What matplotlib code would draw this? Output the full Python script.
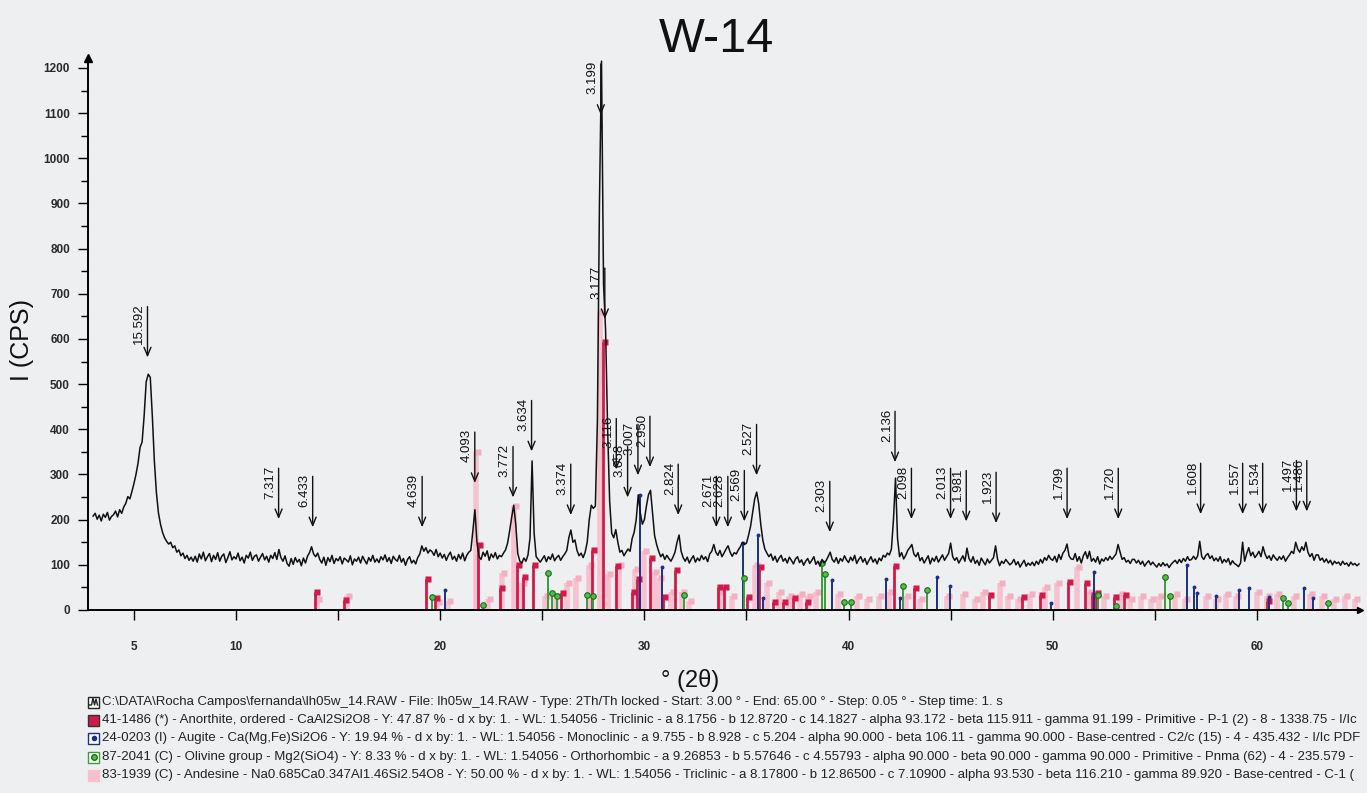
import numpy as np
import matplotlib.pyplot as plt
from matplotlib.patches import Rectangle
import matplotlib.transforms as mtransforms

plt.rcParams['font.family'] = ['Liberation Sans', 'DejaVu Sans']

WL = 1.54056

# measured scan, 3.0 - 65.0 deg 2theta, one row per degree (0.1 deg apart)
scan_counts = [
    208, 214, 201, 210, 197, 212, 205, 216, 199, 207,
    211, 219, 206, 222, 214, 228, 236, 251, 246, 262,
    280, 300, 325, 360, 372, 430, 505, 522, 515, 430,
    330, 260, 215, 190, 172, 160, 152, 146, 150, 138,
    142, 128, 133, 120, 126, 114, 121, 110, 117, 108,
    119, 106, 124, 113, 128, 109, 118, 125, 107, 121,
    112, 127, 108, 119, 124, 105, 116, 129, 111, 118,
    113, 126, 109, 117, 104, 121, 115, 128, 110, 119,
    122, 108, 117, 125, 111, 119, 106, 121, 114, 127,
    112, 134, 116, 108, 120, 103, 97, 114, 101, 116,
    106, 112, 98, 115, 104, 119, 127, 140, 124, 118,
    126, 112, 104, 117, 99, 116, 107, 121, 103, 114,
    109, 118, 102, 115, 111, 106, 120, 100, 113, 108,
    117, 104, 119, 110, 102, 116, 108, 121, 106, 113,
    105, 118, 111, 122, 107, 116, 103, 119, 112, 108,
    121, 106, 114, 99, 112, 118, 104, 110, 102, 116,
    124, 142, 130, 138, 126, 133, 129, 121, 134, 118,
    126, 115, 123, 110, 121, 128, 112, 119, 108, 123,
    113, 126, 109, 121, 128, 132, 175, 222, 150, 118,
    112, 128, 119, 131, 110, 124, 116, 127, 113, 121,
    118, 126, 133, 148, 175, 205, 232, 190, 125, 108,
    104, 115, 108, 122, 160, 330, 170, 118, 112, 106,
    113, 120, 107, 118, 112, 124, 109, 116, 121, 110,
    118, 124, 132, 160, 177, 150, 155, 132, 120, 126,
    116, 128, 150, 200, 232, 225, 230, 420, 900, 1215,
    720, 620, 400, 240, 170, 160, 178, 150, 128, 132,
    120, 128, 135, 130, 158, 172, 200, 255, 215, 190,
    200, 230, 255, 265, 215, 165, 145, 130, 118, 124,
    112, 121, 114, 108, 117, 128, 150, 166, 130, 116,
    108, 117, 104, 113, 120, 106, 115, 109, 121, 112,
    118, 107, 124, 130, 145, 128, 121, 132, 118, 126,
    135, 142, 128, 119, 127, 124, 133, 140, 150, 145,
    148, 165, 185, 215, 245, 261, 235, 190, 155, 135,
    126, 118, 124, 110, 119, 106, 115, 121, 108, 114,
    104, 117, 110, 102, 113, 118, 105, 111, 99, 108,
    114, 103, 110, 118, 101, 108, 97, 112, 104, 109,
    118, 128, 112, 106, 116, 103, 114, 108, 120, 111,
    105, 117, 109, 121, 103, 112, 118, 106, 114, 101,
    110, 118, 106, 113, 102, 115, 109, 121, 117, 126,
    122, 135, 200, 292, 158, 118, 127, 113, 121, 132,
    138, 145, 124, 118, 127, 109, 116, 104, 112, 120,
    102, 115, 108, 119, 106, 114, 122, 110, 118, 125,
    148, 118, 110, 116, 104, 112, 120, 108, 137, 114,
    106, 118, 103, 110, 99, 115, 107, 100, 113, 104,
    110, 116, 142, 112, 98, 108, 103, 112, 106, 100,
    104, 112, 100, 107, 95, 103, 110, 97, 104, 99,
    106, 98, 108, 101, 112, 104, 116, 110, 121, 113,
    110, 119, 106, 123, 112, 126, 132, 146, 120, 113,
    112, 125, 108, 118, 104, 120, 129, 114, 130, 108,
    114, 106, 118, 102, 113, 108, 116, 110, 119, 112,
    118, 124, 145, 128, 112, 116, 106, 110, 103, 112,
    112, 104, 110, 101, 108, 97, 104, 109, 100, 106,
    100, 95, 103, 97, 105, 98, 102, 94, 101, 106,
    110, 103, 112, 105, 114, 108, 118, 110, 112, 119,
    112, 120, 152, 118, 112, 121, 125, 114, 120, 109,
    115, 108, 118, 104, 112, 106, 114, 100, 109, 103,
    100, 96, 104, 150, 108, 125, 138, 120, 128, 116,
    122, 130, 118, 140, 124, 114, 120, 110, 122, 115,
    110, 118, 112, 120, 108, 116, 122, 130, 125, 150,
    135, 128, 140, 132, 150, 128, 118, 125, 110, 122,
    122, 110, 115, 106, 113, 104, 110, 100, 108, 103,
    106, 99, 108, 101, 104, 97, 106, 100, 103, 98,
    102,
]
scan_2theta = np.round(np.linspace(3.0, 65.0, len(scan_counts)), 2)

# d-spacings picked by the peak search, with the counts at each arrow tip
peak_d = ['15.592', '7.317', '6.433', '4.639', '4.093', '3.772', '3.634', '3.374',
          '3.199', '3.177', '3.116', '3.058', '3.007', '2.950', '2.824', '2.671',
          '2.628', '2.569', '2.527', '2.303', '2.136', '2.098', '2.013', '1.981',
          '1.923', '1.799', '1.720', '1.608', '1.557', '1.534', '1.497', '1.486']
peak_tip = [553, 195, 177, 177, 275, 243, 345, 204,
            1090, 638, 305, 243, 292, 310, 204, 177,
            177, 190, 292, 166, 321, 195, 195, 190,
            186, 195, 195, 206, 206, 206, 212, 212]
arrow_len = 125

# reference patterns (2theta, relative height)
anorthite_2theta = [13.85, 15.3, 19.3, 19.75, 21.85, 22.95, 23.75, 24.05, 24.55, 25.9,
                    27.45, 27.95, 28.62, 29.4, 29.65, 30.3, 30.9, 31.5, 33.6, 33.9,
                    35.05, 35.6, 36.3, 36.8, 37.3, 37.9, 42.25, 43.2, 46.9, 48.5,
                    49.4, 50.75, 51.6, 51.9, 52.1, 53.0, 53.5, 60.5]
anorthite_h = [40, 22, 68, 26, 144, 49, 100, 73, 100, 37,
               133, 593, 98, 40, 68, 115, 29, 89, 51, 51,
               29, 95, 18, 18, 27, 18, 98, 49, 33, 29,
               33, 63, 60, 33, 37, 29, 33, 20]

augite_2theta = [20.25, 29.8, 30.85, 34.85, 35.55, 35.8, 39.2, 41.85, 42.5, 44.35,
                 44.95, 49.9, 52.0, 56.6, 56.9, 57.05, 58.0, 59.1, 59.6, 60.6, 62.3, 62.75]
augite_h = [44, 255, 95, 148, 165, 27, 66, 68, 26, 73,
            53, 15, 85, 100, 52, 37, 30, 44, 49, 29, 49, 26]

olivine_2theta = [19.6, 22.1, 25.3, 25.5, 25.7, 27.2, 27.5, 31.95, 34.9, 38.7,
                  38.85, 39.8, 40.1, 42.65, 43.85, 52.2, 53.1, 55.5, 55.75, 61.3, 61.5, 63.5]
olivine_h = [29, 11, 82, 37, 30, 33, 30, 33, 71, 104,
             80, 18, 18, 53, 44, 33, 9, 74, 30, 26, 15, 15]

andesine_2theta = [13.95, 15.45, 19.85, 20.4, 21.75, 22.35, 23.05, 23.6, 24.0, 25.15,
                   25.65, 26.2, 26.65, 27.3, 27.82, 28.2, 28.75, 29.55, 30.0, 30.45,
                   30.7, 31.3, 31.85, 32.2, 33.7, 34.3, 35.4, 36.0, 36.6, 37.1,
                   37.6, 38.0, 38.4, 39.5, 40.4, 40.9, 41.5, 42.0, 42.8, 43.5,
                   44.8, 45.6, 46.2, 46.6, 47.4, 47.8, 48.3, 48.9, 49.6, 50.2,
                   51.2, 51.8, 52.5, 53.3, 53.8, 54.3, 54.8, 55.2, 56.0, 56.5,
                   57.5, 58.0, 58.5, 59.0, 60.0, 60.5, 61.0, 61.8, 62.6, 63.2,
                   63.8, 64.3, 64.8]
andesine_h = [25, 30, 18, 20, 350, 25, 82, 230, 60, 30,
              30, 60, 71, 100, 660, 80, 100, 90, 130, 85,
              70, 40, 40, 20, 40, 30, 100, 60, 40, 30,
              35, 30, 40, 35, 30, 25, 30, 40, 30, 25,
              30, 35, 25, 40, 60, 30, 25, 35, 50, 60,
              95, 40, 30, 35, 25, 30, 25, 30, 35, 25,
              30, 25, 35, 30, 40, 30, 35, 30, 35, 30,
              25, 30, 25]

xticks = [5, 10, 15, 20, 25, 30, 35, 40, 45, 50, 55, 60]
xtick_labels = ['5', '10', '', '20', '', '30', '', '40', '', '50', '', '60']

legend_lines = [
    "C:\\DATA\\Rocha Campos\\fernanda\\lh05w_14.RAW - File: lh05w_14.RAW - Type: 2Th/Th locked - Start: 3.00 ° - End: 65.00 ° - Step: 0.05 ° - Step time: 1. s",
    "41-1486 (*) - Anorthite, ordered - CaAl2Si2O8 - Y: 47.87 % - d x by: 1. - WL: 1.54056 - Triclinic - a 8.1756 - b 12.8720 - c 14.1827 - alpha 93.172 - beta 115.911 - gamma 91.199 - Primitive - P-1 (2) - 8 - 1338.75 - I/Ic",
    "24-0203 (I) - Augite - Ca(Mg,Fe)Si2O6 - Y: 19.94 % - d x by: 1. - WL: 1.54056 - Monoclinic - a 9.755 - b 8.928 - c 5.204 - alpha 90.000 - beta 106.11 - gamma 90.000 - Base-centred - C2/c (15) - 4 - 435.432 - I/Ic PDF",
    "87-2041 (C) - Olivine group - Mg2(SiO4) - Y: 8.33 % - d x by: 1. - WL: 1.54056 - Orthorhombic - a 9.26853 - b 5.57646 - c 4.55793 - alpha 90.000 - beta 90.000 - gamma 90.000 - Primitive - Pnma (62) - 4 - 235.579 -",
    "83-1939 (C) - Andesine - Na0.685Ca0.347Al1.46Si2.54O8 - Y: 50.00 % - d x by: 1. - WL: 1.54056 - Triclinic - a 8.17800 - b 12.86500 - c 7.10900 - alpha 93.530 - beta 116.210 - gamma 89.920 - Base-centred - C-1 (",
]

RED = '#d2194b'
BLUE = '#1d2f86'
GREEN = '#3c9c3a'
PINK = '#f6c2cf'
BG = '#edeff0'


def bragg(d):
    return 2 * np.degrees(np.arcsin(WL / (2 * float(d))))


fig = plt.figure(figsize=(13.67, 7.93), dpi=100, facecolor=BG)
ax = fig.add_axes([88 / 1367, 183 / 793, 1272 / 1367, 552 / 793])
ax.set_facecolor(BG)
ax.set_xlim(2.75, 65.05)
ax.set_ylim(0, 1222)

# stick patterns; marker nudged right of the stick top
nudge = mtransforms.offset_copy(ax.transData, fig=fig, x=2, y=0, units='dots')
ax.vlines(andesine_2theta, 0, andesine_h, colors=PINK, lw=4, zorder=1)
ax.plot(andesine_2theta, andesine_h, 's', color='#f3b0c2', ms=5, mec='none',
        transform=nudge, zorder=1)
ax.vlines(anorthite_2theta, 0, anorthite_h, colors=RED, lw=2, zorder=2)
ax.plot(anorthite_2theta, anorthite_h, 's', color=RED, ms=4, mec='none',
        transform=nudge, zorder=2)
ax.vlines(augite_2theta, 0, augite_h, colors=BLUE, lw=1.4, zorder=2)
ax.plot(augite_2theta, augite_h, 'o', color=BLUE, ms=2.8, mec='none', zorder=2)
ax.vlines(olivine_2theta, 0, olivine_h, colors=GREEN, lw=1.4, zorder=2)
ax.plot(olivine_2theta, olivine_h, 'o', color='#4fbf45', ms=4, mec='#1f6a1f',
        mew=0.8, zorder=2)

# scan
ax.plot(scan_2theta, scan_counts, color='#111111', lw=1.1, zorder=3)

# peak search arrows and d-spacing labels
for d, tip in zip(peak_d, peak_tip):
    x = bragg(d)
    ax.annotate('', xy=(x, tip), xytext=(x, tip + arrow_len),
                arrowprops=dict(arrowstyle='->,head_length=0.6,head_width=0.25',
                                color='#111111', lw=1.0), zorder=4)
    ax.annotate(d, xy=(x, tip + arrow_len), xytext=(-1.5, 0), textcoords='offset points',
                rotation=90, ha='right', va='top', fontsize=9.5, color='#111111',
                zorder=4)

# axes styling
for side in ['top', 'right']:
    ax.spines[side].set_visible(False)
ax.spines['left'].set_linewidth(1.4)
ax.spines['bottom'].set_linewidth(1.4)
ax.plot(0, 1, '^', color='k', ms=6, transform=ax.transAxes, clip_on=False)
ax.plot(1, 0, '>', color='k', ms=5, transform=ax.transAxes, clip_on=False)

ax.set_yticks(range(0, 1201, 100))
ax.set_yticks(range(50, 1200, 100), minor=True)
ax.set_xticks(xticks)
ax.set_xticklabels(xtick_labels)
ax.tick_params(axis='y', which='major', length=7, width=1, pad=6, labelsize=8.5,
               labelcolor='#2a2a2a')
ax.tick_params(axis='y', which='minor', length=5, width=1)
ax.tick_params(axis='x', which='major', length=7, width=1, pad=15, labelsize=8.5,
               labelcolor='#2a2a2a')
for lab in ax.get_xticklabels() + ax.get_yticklabels():
    lab.set_fontweight('bold')

fig.text(716 / 1367, 1 - 39 / 793, 'W-14', ha='center', va='center', fontsize=35,
         color='#111111')
fig.text(22 / 1367, 1 - 340 / 793, 'I (CPS)', ha='center', va='center', rotation=90,
         fontsize=18, color='#111111')
fig.text(690 / 1367, 1 - 680 / 793, '° (2θ)', ha='center', va='center', fontsize=17,
         color='#111111')

# legend block under the plot
icon_face = ['white', RED, 'white', 'white', PINK]
icon_edge = ['#222222', '#333333', BLUE, GREEN, PINK]
for i, line in enumerate(legend_lines):
    y = 702 + 18.2 * i
    fig.patches.append(Rectangle((88 / 1367, 1 - (y + 6) / 793), 11 / 1367, 11 / 793,
                                 transform=fig.transFigure, facecolor=icon_face[i],
                                 edgecolor=icon_edge[i], lw=1))
    fig.text(102 / 1367, 1 - y / 793, line, ha='left', va='center', fontsize=9.5,
             color='#222222')
fig.patches.append(Rectangle((90.5 / 1367, 1 - (720 + 3) / 793), 6 / 1367, 6 / 793,
                             transform=fig.transFigure, facecolor=RED, edgecolor='none'))
fig.lines.append(plt.Line2D([93.5 / 1367], [1 - 738.4 / 793], marker='o', ms=3,
                            color=BLUE, transform=fig.transFigure))
fig.lines.append(plt.Line2D([93.5 / 1367], [1 - 756.6 / 793], marker='o', ms=4,
                            color='#4fbf45', mec='#1f6a1f', transform=fig.transFigure))
fig.lines.append(plt.Line2D([89.5 / 1367, 91.5 / 1367, 93 / 1367, 94.5 / 1367, 96 / 1367, 97.5 / 1367],
                            [1 - 705 / 793, 1 - 705 / 793, 1 - 698 / 793, 1 - 705 / 793,
                             1 - 699 / 793, 1 - 705 / 793],
                            color='#222222', lw=1, transform=fig.transFigure))

fig.savefig('out.png', dpi=100, facecolor=BG)
